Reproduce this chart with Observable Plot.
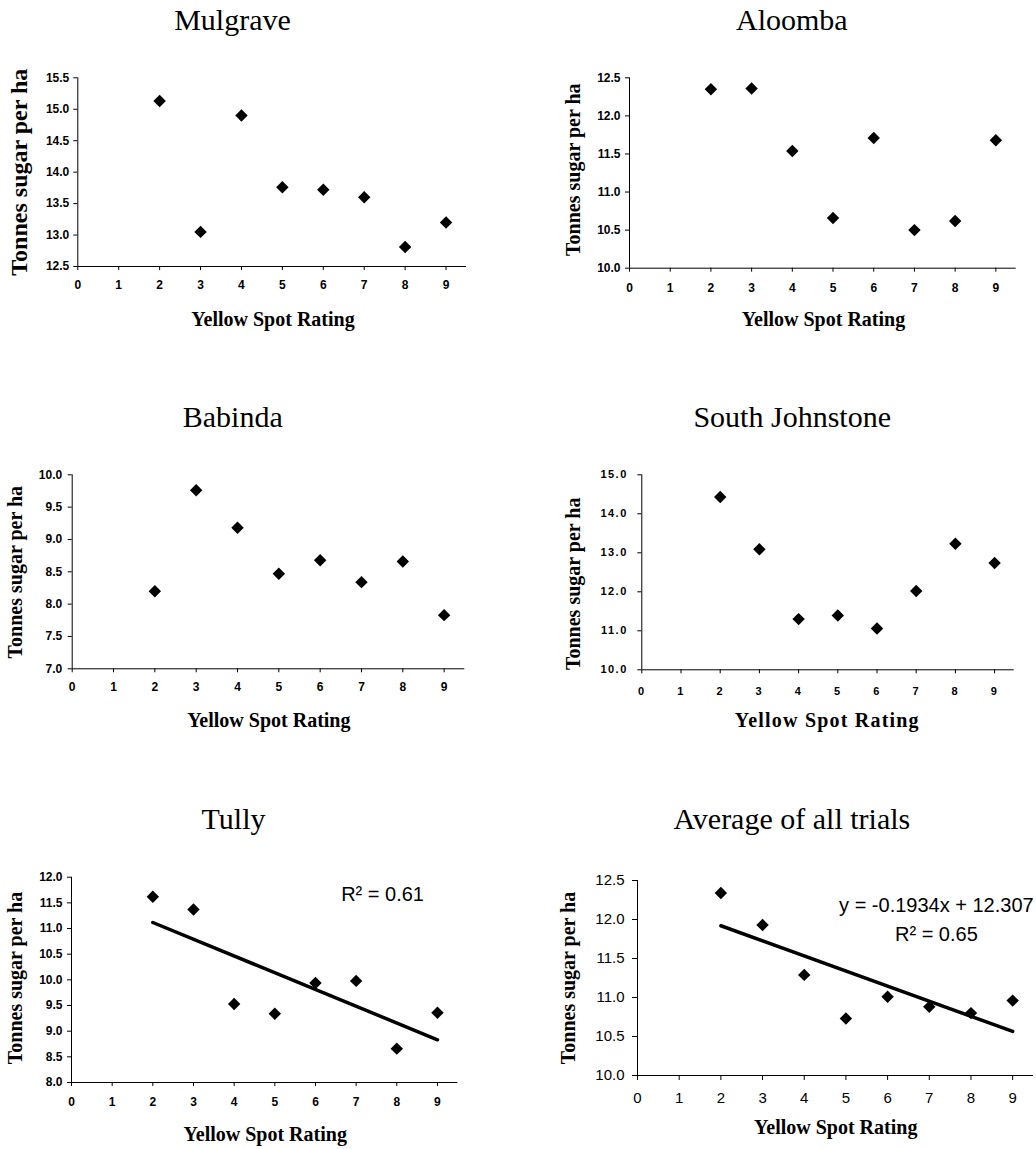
<!DOCTYPE html>
<html><head><meta charset="utf-8">
<script src="https://cdn.jsdelivr.net/npm/d3@7"></script>
<script src="https://cdn.jsdelivr.net/npm/@observablehq/plot@0.6"></script>
<style>
html,body{margin:0;padding:0;background:#fff;}
#chart{position:relative;width:1036px;height:1149px;overflow:hidden;}
.panel{position:absolute;}
</style></head><body><div id="chart"></div>
<script>
// ---------- data ----------
const ratings = [2, 3, 4, 5, 6, 7, 8, 9];
const xTicks = [0, 1, 2, 3, 4, 5, 6, 7, 8, 9];
const mulgrave = [15.13, 13.05, 14.90, 13.76, 13.72, 13.60, 12.81, 13.20];
const aloomba = [12.35, 12.36, 11.54, 10.66, 11.71, 10.50, 10.62, 11.68];
const babinda = [8.20, 9.76, 9.18, 8.47, 8.68, 8.34, 8.66, 7.83];
const southJohnstone = [14.43, 13.09, 11.30, 11.39, 11.06, 12.02, 13.23, 12.74];
const tully = [11.62, 11.37, 9.53, 9.34, 9.94, 9.98, 8.66, 9.36];
const average = [12.34, 11.93, 11.29, 10.73, 11.01, 10.88, 10.80, 10.96];
const titles = ["Mulgrave", "Aloomba", "Babinda", "South Johnstone", "Tully", "Average of all trials"];
const mulgraveTicks = [12.5, 13.0, 13.5, 14.0, 14.5, 15.0, 15.5];
const aloombaTicks = [10.0, 10.5, 11.0, 11.5, 12.0, 12.5];
const babindaTicks = [7.0, 7.5, 8.0, 8.5, 9.0, 9.5, 10.0];
const southJohnstoneTicks = [10.0, 11.0, 12.0, 13.0, 14.0, 15.0];
const tullyTicks = [8.0, 8.5, 9.0, 9.5, 10.0, 10.5, 11.0, 11.5, 12.0];
const averageTicks = [10.0, 10.5, 11.0, 11.5, 12.0, 12.5];
const tullyNotes = ["R² = 0.61"];
const averageNotes = ["y = -0.1934x + 12.307", "R² = 0.65"];
const xLabel = "Yellow Spot Rating";
const yLabel = "Tonnes sugar per ha";

// ---------- layout ----------
const SERIF = "'Liberation Serif', 'Times New Roman', serif";
const SANS = "'Liberation Sans', Arial, sans-serif";
const panels = [
  {title: titles[0], values: mulgrave, ticks: mulgraveTicks, left: 0, top: 0, w: 518, h: 340,
   mL: 77.3, mR: 52, mT: 77.3, mB: 74, tX: 232, tB: 29, xlX: 272.5, xlB: 325, ylB: 26.7, ylY: 171.7, ylS: 24,
   tickFs: 12, tickW: "bold", tickSize: 4, yPad: 4.5, xPad: 10, ls: 0, xlLs: 0},
  {title: titles[1], values: aloomba, ticks: aloombaTicks, left: 518, top: 0, w: 518, h: 340,
   mL: 111, mR: 20.3, mT: 77.3, mB: 72.3, tX: 273.3, tB: 29, xlX: 305, xlB: 325, ylB: 61.7, ylY: 169.2, ylS: 20,
   tickFs: 12, tickW: "bold", tickSize: 4, yPad: 5, xPad: 11, ls: 0, xlLs: 0},
  {title: titles[2], values: babinda, ticks: babindaTicks, left: 0, top: 370, w: 518, h: 380,
   mL: 71.7, mR: 53.7, mT: 104.3, mB: 81.7, tX: 232.2, tB: 56, xlX: 268.3, xlB: 356.7, ylB: 21.7, ylY: 201.7, ylS: 20,
   tickFs: 12, tickW: "bold", tickSize: 4, yPad: 6, xPad: 10, ls: 0, xlLs: 0},
  {title: titles[3], values: southJohnstone, ticks: southJohnstoneTicks, left: 518, top: 370, w: 518, h: 380,
   mL: 123.3, mR: 22.3, mT: 104.3, mB: 80.7, tX: 273.7, tB: 56, xlX: 308.8, xlB: 356.7, ylB: 61.7, ylY: 213.3, ylS: 20,
   tickFs: 11, tickW: "bold", tickSize: 4, yPad: 10, xPad: 13, ls: 1.5, xlLs: 1.2},
  {title: titles[4], values: tully, ticks: tullyTicks, left: 0, top: 760, w: 518, h: 389,
   mL: 71, mR: 60.7, mT: 116.7, mB: 67, tX: 233, tB: 68, xlX: 264.7, xlB: 380, ylB: 21.7, ylY: 217.5, ylS: 20,
   tickFs: 12, tickW: "bold", tickSize: 4, yPad: 5, xPad: 11, ls: 0, xlLs: 0,
   fit: true, notes: tullyNotes, noteX: [7.65], noteY: [11.67]},
  {title: titles[5], values: average, ticks: averageTicks, left: 518, top: 760, w: 518, h: 389,
   mL: 119, mR: 3, mT: 120, mB: 74, tX: 273.3, tB: 68, xlX: 317.2, xlB: 373.3, ylB: 56.7, ylY: 217.5, ylS: 20,
   tickFs: 15, tickW: "normal", tickSize: 5, yPad: 8, xPad: 12, ls: 0, xlLs: 0,
   fit: true, notes: averageNotes, noteX: [7.17, 7.17], noteY: [12.18, 11.81]}
];

const chart = document.getElementById("chart");

function makePanel(p) {
  const data = ratings.map((r, i) => ({x: r, y: p.values[i]}));
  const yDomain = [p.ticks[0], p.ticks[p.ticks.length - 1]];
  const at = (x, y) => ({frameAnchor: "top-left", dx: x - p.mL, dy: y - p.mT, lineAnchor: "middle"});
  const marks = [
    Plot.axisY(p.ticks, {tickSize: p.tickSize, tickPadding: p.yPad, tickFormat: d => d.toFixed(1),
      fontSize: p.tickFs, fontWeight: p.tickW, fontFamily: SANS, label: null}),
    Plot.axisX(xTicks, {tickSize: p.tickSize, tickPadding: p.xPad, tickFormat: d => String(d),
      fontSize: p.tickFs, fontWeight: p.tickW, fontFamily: SANS, label: null}),
    Plot.ruleY([yDomain[0]], {stroke: "#000", strokeWidth: 1}),
    Plot.ruleX([0], {stroke: "#000", strokeWidth: 1}),
    Plot.text([p.title], {text: d => d, ...at(p.tX, p.tB - 0.32 * 30), textAnchor: "middle",
      fontFamily: SERIF, fontSize: 30, fontWeight: "normal", fill: "#000"}),
    Plot.text([xLabel], {text: d => d, ...at(p.xlX, p.xlB - 0.32 * 20), textAnchor: "middle",
      fontFamily: SERIF, fontSize: 20, fontWeight: "bold", fill: "#000", className: "xlab"}),
    Plot.text([yLabel], {text: d => d, ...at(p.ylB - 0.32 * p.ylS, p.ylY), rotate: -90, textAnchor: "middle",
      fontFamily: SERIF, fontSize: p.ylS, fontWeight: "bold", fill: "#000"})
  ];
  if (p.fit) {
    marks.push(Plot.linearRegressionY(data, {x: "x", y: "y", ci: 0, stroke: "#000", strokeWidth: 3.5}));
  }
  marks.push(Plot.dot(data, {x: "x", y: "y", symbol: "diamond2", r: 5.6, fill: "#000", stroke: "none"}));
  if (p.notes) {
    marks.push(Plot.text(p.notes, {x: (d, i) => p.noteX[i], y: (d, i) => p.noteY[i], text: d => d,
      textAnchor: "middle", lineAnchor: "middle", fontFamily: SANS, fontSize: 20, fontWeight: "normal", fill: "#000"}));
  }
  const svg = Plot.plot({
    width: p.w, height: p.h,
    marginLeft: p.mL, marginRight: p.mR, marginTop: p.mT, marginBottom: p.mB,
    x: {domain: [0, 9.5]},
    y: {domain: yDomain},
    style: {background: "transparent", color: "#000", overflow: "visible", fontFamily: SANS},
    marks
  });
  const s = d3.select(svg);
  if (p.ls) {
    s.selectAll("g[aria-label='y-axis tick label'] text, g[aria-label='x-axis tick label'] text")
      .style("letter-spacing", p.ls + "px");
  }
  if (p.xlLs) {
    s.selectAll("text").filter(function () { return this.textContent === xLabel; })
      .style("letter-spacing", p.xlLs + "px");
  }
  const div = document.createElement("div");
  div.className = "panel";
  div.style.left = p.left + "px";
  div.style.top = p.top + "px";
  div.appendChild(svg);
  chart.appendChild(div);
}
panels.forEach(makePanel);
</script></body></html>
